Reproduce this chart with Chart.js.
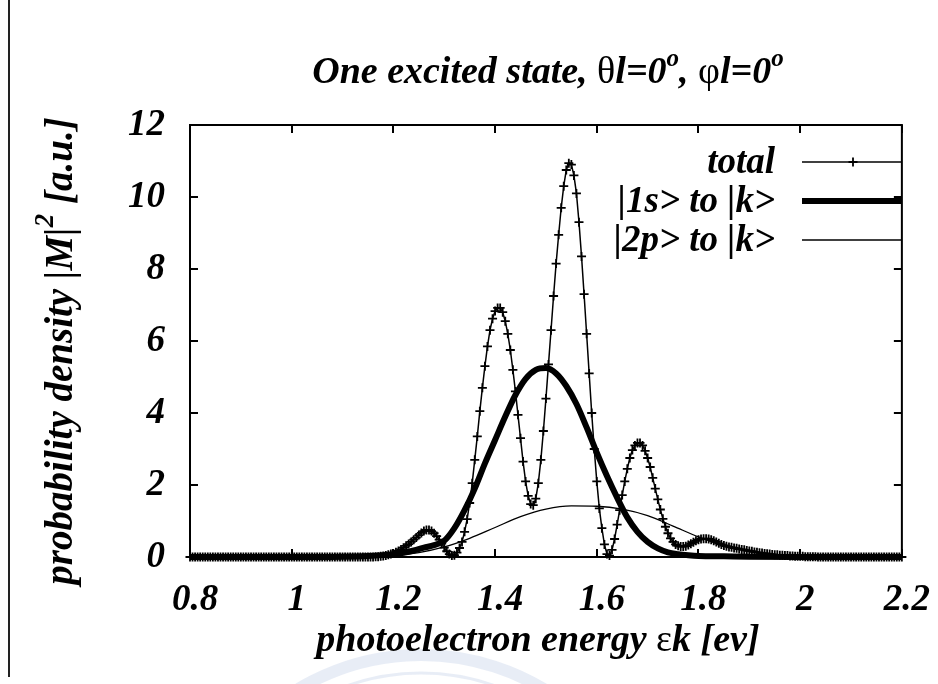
<!DOCTYPE html>
<html>
<head>
<meta charset="utf-8">
<title>One excited state</title>
<script src="https://cdn.jsdelivr.net/npm/chart.js@4.4.1/dist/chart.umd.min.js"></script>
<style>
  body { margin: 0; background: #fff; }
  #wrap { position: relative; width: 938px; height: 684px; overflow: hidden; }
  #pageRule { position: absolute; left: 8px; top: 0; width: 2px; height: 677px; background: #222; }
</style>
</head>
<body>
<div id="wrap">
  <canvas id="spectrum" width="938" height="684"></canvas>
  <div id="pageRule"></div>
</div>
<script>
// total |M|^2, sampled every 0.005 eV from 0.8 eV
const energyStart = 0.8;
const energyStep = 0.005;
const totalDensity = [
  0, 0, 0, 0, 0, 0, 0, 0, 0, 0, 0, 0, 0, 0, 0, 0, 0, 0, 0, 0,
  0, 0, 0, 0, 0, 0, 0, 0, 0, 0, 0, 0, 0, 0, 0, 0, 0, 0, 0, 0,
  0, 0, 0, 0, 0, 0, 0, 0, 0, 0, 0, 0, 0, 0, 0, 0, 0, 0, 0, 0,
  0, 0, 0, 0, 0, 0, 0, 0, 0, 0, 0, 0, 0, 0.01, 0.01, 0.02, 0.03, 0.04, 0.06, 0.08,
  0.1, 0.13, 0.17, 0.21, 0.26, 0.31, 0.36, 0.42, 0.48, 0.54, 0.61, 0.67, 0.72, 0.75, 0.75, 0.72, 0.66, 0.58, 0.48, 0.37,
  0.26, 0.16, 0.08, 0.04, 0.05, 0.12, 0.25, 0.42, 0.7, 1.05, 1.5, 2.05, 2.7, 3.35, 4.05, 4.7, 5.3, 5.85, 6.3, 6.62,
  6.83, 6.92, 6.92, 6.8, 6.55, 6.2, 5.75, 5.2, 4.6, 3.95, 3.3, 2.65, 2.1, 1.7, 1.47, 1.44, 1.62, 2.05, 2.7, 3.5,
  4.4, 5.35, 6.3, 7.25, 8.15, 8.95, 9.7, 10.3, 10.75, 10.94, 10.9, 10.6, 10.1, 9.3, 8.35, 7.3, 6.2, 5.1, 4.0, 3.0,
  2.1, 1.35, 0.8, 0.35, 0.08, 0.04, 0.2, 0.5, 0.9, 1.3, 1.72, 2.1, 2.45, 2.75, 2.97, 3.1, 3.17, 3.17, 3.1, 2.95,
  2.75, 2.5, 2.2, 1.9, 1.6, 1.32, 1.06, 0.84, 0.66, 0.52, 0.42, 0.35, 0.31, 0.29, 0.29, 0.3, 0.33, 0.37, 0.41, 0.45,
  0.48, 0.5, 0.51, 0.51, 0.5, 0.48, 0.45, 0.42, 0.38, 0.35, 0.32, 0.3, 0.28, 0.27, 0.25, 0.24, 0.22, 0.21, 0.2, 0.18,
  0.17, 0.16, 0.14, 0.13, 0.12, 0.11, 0.1, 0.09, 0.08, 0.07, 0.06, 0.06, 0.05, 0.05, 0.04, 0.04, 0.03, 0.03, 0.02, 0.02,
  0.02, 0.02, 0.01, 0.01, 0.01, 0.01, 0.01, 0, 0, 0, 0, 0, 0, 0, 0, 0, 0, 0, 0, 0,
  0, 0, 0, 0, 0, 0, 0, 0, 0, 0, 0, 0, 0, 0, 0, 0, 0, 0, 0, 0,
  0
];

// |1s> -> |k> contribution
const energy1s = [0.8, 1.0, 1.1, 1.15, 1.2, 1.22, 1.24, 1.26, 1.28, 1.3, 1.32, 1.34, 1.36, 1.38, 1.4,
  1.42, 1.44, 1.46, 1.48, 1.5, 1.52, 1.54, 1.56, 1.58, 1.6, 1.62, 1.64, 1.66, 1.68, 1.7,
  1.72, 1.74, 1.76, 1.78, 1.8, 1.85, 1.9, 2.0, 2.2];
const density1s = [0, 0, 0.01, 0.03, 0.08, 0.12, 0.18, 0.26, 0.33, 0.45, 0.8, 1.3, 1.9, 2.6, 3.25,
  3.9, 4.5, 4.95, 5.2, 5.25, 5.1, 4.75, 4.25, 3.6, 2.9, 2.25, 1.65, 1.1, 0.7, 0.42,
  0.24, 0.13, 0.08, 0.05, 0.03, 0.02, 0.01, 0, 0];

// |2p> -> |k> contribution
const energy2p = [0.8, 1.1, 1.15, 1.2, 1.25, 1.3, 1.35, 1.4, 1.45, 1.5, 1.55, 1.6,
  1.65, 1.7, 1.75, 1.8, 1.85, 1.9, 1.95, 2.0, 2.05, 2.1, 2.2];
const density2p = [0, 0, 0.01, 0.04, 0.12, 0.28, 0.52, 0.82, 1.12, 1.33, 1.42, 1.41,
  1.33, 1.15, 0.86, 0.56, 0.32, 0.16, 0.07, 0.03, 0.01, 0, 0];

const seriesNames = ['total', '|1s> to |k>', '|2p> to |k>'];

const serif = '"Liberation Serif", "Times New Roman", serif';
const bi = size => `italic bold ${size}px ${serif}`;
const up = size => `${size}px ${serif}`;

function toPoints(xs, ys) {
  return ys.map((v, i) => ({ x: xs[i], y: v }));
}
const totalPoints = totalDensity.map((v, i) => ({ x: energyStart + i * energyStep, y: v }));

// draw a row of text pieces with different fonts / raised superscripts
function drawRuns(ctx, runs, x, y) {
  let w = 0;
  runs.forEach(r => { ctx.font = r.font; w += ctx.measureText(r.text).width; });
  let cx = x - w / 2;
  ctx.textAlign = 'left';
  ctx.textBaseline = 'alphabetic';
  runs.forEach(r => {
    ctx.font = r.font;
    ctx.fillText(r.text, cx, y - (r.rise || 0));
    cx += ctx.measureText(r.text).width;
  });
}

// faint seal printed behind the page
const seal = {
  id: 'seal',
  beforeDraw(chart) {
    const { ctx } = chart;
    ctx.save();
    ctx.strokeStyle = 'rgba(120, 150, 200, 0.17)';
    ctx.lineWidth = 12;
    ctx.beginPath();
    ctx.arc(421, 893, 238, Math.PI * 1.1, Math.PI * 1.9);
    ctx.stroke();
    ctx.lineWidth = 3;
    ctx.beginPath();
    ctx.arc(421, 893, 220, Math.PI * 1.12, Math.PI * 1.88);
    ctx.stroke();
    ctx.restore();
  }
};

const plotFrame = {
  id: 'plotFrame',
  beforeDatasetsDraw(chart) {
    const { ctx, chartArea: a, scales: { x, y } } = chart;
    ctx.save();
    ctx.strokeStyle = '#000';
    ctx.lineWidth = 2;
    ctx.strokeRect(a.left, a.top, a.right - a.left, a.bottom - a.top);
    ctx.beginPath();
    x.ticks.forEach(t => {
      const px = Math.round(x.getPixelForValue(t.value));
      ctx.moveTo(px, a.bottom); ctx.lineTo(px, a.bottom - 8);
      ctx.moveTo(px, a.top); ctx.lineTo(px, a.top + 8);
    });
    y.ticks.forEach(t => {
      const py = Math.round(y.getPixelForValue(t.value));
      ctx.moveTo(a.left, py); ctx.lineTo(a.left + 8, py);
      ctx.moveTo(a.right, py); ctx.lineTo(a.right - 8, py);
    });
    ctx.stroke();
    ctx.restore();
  }
};

const captions = {
  id: 'captions',
  afterDraw(chart) {
    const { ctx, chartArea: a } = chart;
    ctx.save();
    ctx.fillStyle = '#000';
    drawRuns(ctx, [
      { text: 'One excited state, ', font: bi(38) },
      { text: 'θ', font: up(38) },
      { text: 'l=0', font: bi(38) },
      { text: 'o', font: bi(25), rise: 17 },
      { text: ', ', font: bi(38) },
      { text: 'φ', font: up(38) },
      { text: 'l=0', font: bi(38) },
      { text: 'o', font: bi(25), rise: 17 }
    ], (a.left + a.right) / 2 + 2, 83);

    drawRuns(ctx, [
      { text: 'photoelectron energy ', font: bi(38) },
      { text: 'ε', font: up(38) },
      { text: 'k [ev]', font: bi(38) }
    ], (a.left + a.right) / 2 - 8, 651);

    ctx.translate(72, (a.top + a.bottom) / 2 + 10);
    ctx.rotate(-Math.PI / 2);
    drawRuns(ctx, [
      { text: 'probability density |M|', font: bi(39) },
      { text: '2', font: bi(27), rise: 19 },
      { text: ' [a.u.]', font: bi(39) }
    ], 0, 0);
    ctx.restore();
  }
};

// key in the upper right: label right-aligned, line sample running to the frame
const keyBox = {
  id: 'keyBox',
  afterDatasetsDraw(chart) {
    const { ctx, chartArea: a } = chart;
    ctx.save();
    chart.data.datasets.forEach((ds, i) => {
      const rowY = 162 + i * 39;
      ctx.font = bi(37);
      ctx.fillStyle = '#000';
      ctx.textAlign = 'right';
      ctx.textBaseline = 'alphabetic';
      ctx.fillText(ds.label, 775, rowY + 11);
      ctx.strokeStyle = ds.borderColor;
      ctx.lineWidth = ds.borderWidth;
      ctx.beginPath();
      ctx.moveTo(802, rowY);
      ctx.lineTo(a.right, rowY);
      ctx.stroke();
      if (ds.pointRadius > 0) {
        const r = ds.pointRadius;
        ctx.lineWidth = ds.pointBorderWidth;
        ctx.beginPath();
        ctx.moveTo(853 - r, rowY); ctx.lineTo(853 + r, rowY);
        ctx.moveTo(853, rowY - r); ctx.lineTo(853, rowY + r);
        ctx.stroke();
      }
    });
    ctx.restore();
  }
};

const tickFont = { family: serif, size: 37, style: 'italic', weight: 'bold' };

new Chart(document.getElementById('spectrum'), {
  type: 'scatter',
  data: {
    datasets: [
      {
        label: seriesNames[0],
        data: totalPoints,
        showLine: true,
        borderColor: '#000',
        backgroundColor: '#000',
        borderWidth: 1.5,
        pointStyle: 'cross',
        pointRadius: 4.5,
        pointBorderWidth: 1.8,
        pointBorderColor: '#000',
        clip: 10
      },
      {
        label: seriesNames[1],
        data: toPoints(energy1s, density1s),
        showLine: true,
        borderColor: '#000',
        borderWidth: 6,
        pointRadius: 0,
        cubicInterpolationMode: 'monotone',
        clip: 10
      },
      {
        label: seriesNames[2],
        data: toPoints(energy2p, density2p),
        showLine: true,
        borderColor: '#000',
        borderWidth: 1.3,
        pointRadius: 0,
        cubicInterpolationMode: 'monotone',
        clip: 10
      }
    ]
  },
  options: {
    responsive: false,
    devicePixelRatio: 1,
    animation: false,
    events: [],
    layout: { padding: { top: 125, right: 29, left: 0, bottom: 0 } },
    plugins: {
      legend: { display: false },
      title: { display: false },
      tooltip: { enabled: false }
    },
    scales: {
      x: {
        type: 'linear',
        min: 0.8,
        max: 2.2,
        grid: { display: false },
        border: { display: false },
        ticks: {
          stepSize: 0.2,
          padding: 13,
          labelOffset: 5,
          color: '#000',
          font: tickFont,
          maxRotation: 0,
          callback: v => String(Number(v.toFixed(1)))
        },
        afterFit(scale) { scale.height = 127; }
      },
      y: {
        type: 'linear',
        min: 0,
        max: 12,
        grid: { display: false },
        border: { display: false },
        ticks: {
          stepSize: 2,
          padding: 17,
          color: '#000',
          font: tickFont
        },
        afterFit(scale) { scale.width = 190; }
      }
    }
  },
  plugins: [seal, plotFrame, keyBox, captions]
});
</script>
</body>
</html>
